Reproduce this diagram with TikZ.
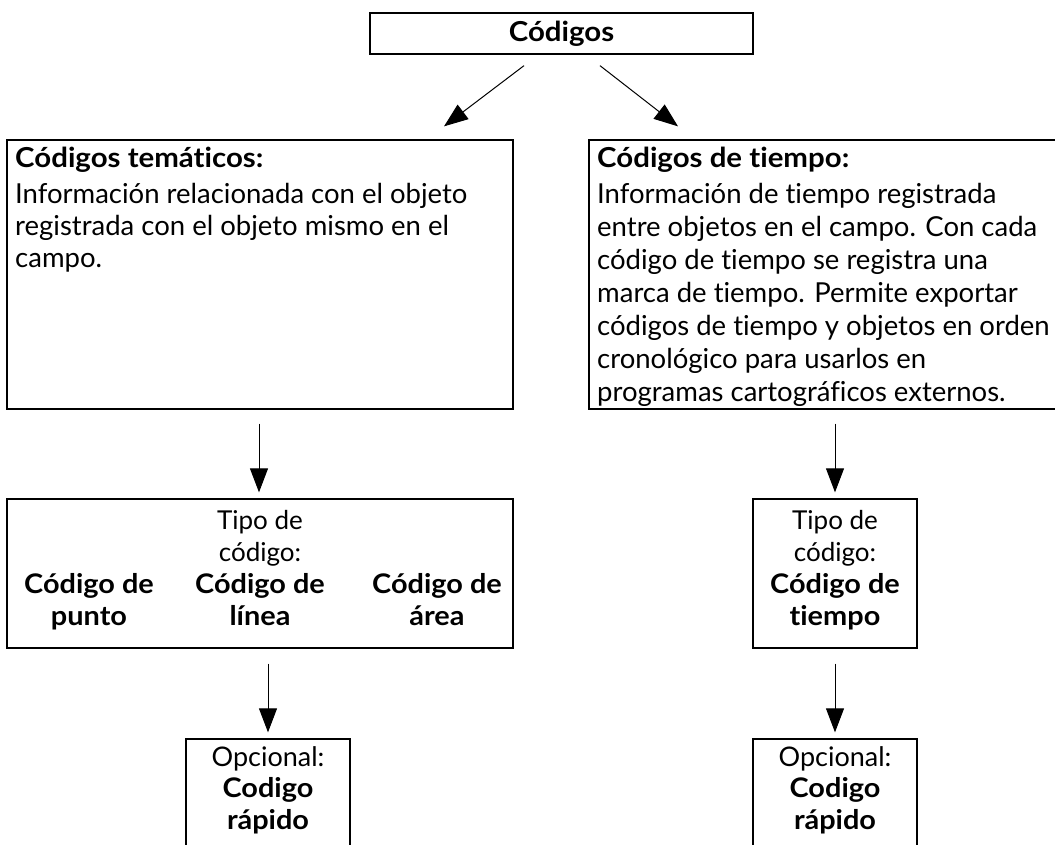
\documentclass[tikz,border=0pt]{standalone}
\usepackage{fontspec}
\setmainfont{Lato}[Ligatures={NoCommon,NoContextual},BoldFeatures={FakeStretch=1.07}]
\usetikzlibrary{arrows.meta,calc}
\newcommand\midbold[1]{{\fontsize{27}{32}\selectfont\bfseries #1}}
\begin{document}
\begin{tikzpicture}[x=1pt,y=-1pt,
  box/.style={draw,line width=1.3pt,rectangle,inner sep=0pt},
  body/.style={inner sep=0pt,align=left,font=\fontsize{27.5}{32}\selectfont},
  mid/.style={inner sep=0pt,align=center,font=\fontsize{26}{32}\selectfont},
  arr/.style={line width=1pt,-{Triangle[length=24pt,width=18pt]}}]
\useasboundingbox (0,0) rectangle (1055,844);
\clip (0,0) rectangle (1055,844);
% boxes
\node[box,minimum width=383pt,minimum height=41pt,font=\fontsize{27.5}{33}\selectfont\bfseries] (top) at (561.5,33.5) {Códigos};
\node[box,minimum width=506pt,minimum height=269pt] (tema) at (260,274.5) {};
\node[box,minimum width=481pt,minimum height=269pt] (tiem) at (829.5,274.5) {};
\node[box,minimum width=506pt,minimum height=149pt] (tipoa) at (260,573.5) {};
\node[box,minimum width=164pt,minimum height=149pt] (tipob) at (835,573.5) {};
\node[box,minimum width=164pt,minimum height=131pt] (opca) at (268,804.5) {};
\node[box,minimum width=164pt,minimum height=131pt] (opcb) at (835,804.5) {};
% texts (base anchor = baseline of the last line)
\node[body,anchor=base west] (tematxt) at (15,267) {\textbf{Códigos temáticos:}\\[4pt]
Información relacionada con el objeto\\
registrada con el objeto mismo en el\\
campo.};
\node[body,anchor=base west,font=\fontsize{27.5}{33}\selectfont] (tiemtxt) at (597,401) {\textbf{Códigos de tiempo:}\\[3pt]
Información de tiempo registrada\\
entre objetos en el campo. Con cada\\
código de tiempo se registra una\\
marca de tiempo. Permite exportar\\
códigos de tiempo y objetos en orden\\
cronológico para usarlos en\\
programas cartográficos externos.};
\node[mid,anchor=base] (tipoatxt) at (260,561) {Tipo de\\código:};
\node[mid,anchor=base] (ca1) at (89,625) {\midbold{Código de}\\\midbold{punto}};
\node[mid,anchor=base] (ca2) at (260,625) {\midbold{Código de}\\\midbold{línea}};
\node[mid,anchor=base] (ca3) at (437,625) {\midbold{Código de}\\\midbold{área}};
\node[mid,anchor=base] (tipobtxt) at (835,625) {Tipo de\\código:\\\midbold{Código de}\\\midbold{tiempo}};
\node[mid,anchor=base,font=\fontsize{27}{31.5}\selectfont] (opcatxt) at (268,829) {Opcional:\\\midbold{Codigo}\\\midbold{rápido}};
\node[mid,anchor=base,font=\fontsize{27}{31.5}\selectfont] (opcbtxt) at (835,829) {Opcional:\\\midbold{Codigo}\\\midbold{rápido}};
% arrows
\draw[arr] ($(top.south)+(-37.5,11)$) -- ($(tema.north)+(184,-13)$);
\draw[arr] ($(top.south)+(38.5,11)$) -- ($(tiem.north)+(-151.5,-13)$);
\draw[arr] ($(tema.south)+(-1,14)$) -- ($(tipoa.north)+(-1,-6)$);
\draw[arr] ($(tiem.south)+(5.5,14)$) -- ($(tipob.north)+(0,-6)$);
\draw[arr] ($(tipoa.south)+(8,15)$) -- ($(opca.north)+(0,-6)$);
\draw[arr] ($(tipob.south)+(0,15)$) -- ($(opcb.north)+(0,-6)$);
\end{tikzpicture}
\end{document}
